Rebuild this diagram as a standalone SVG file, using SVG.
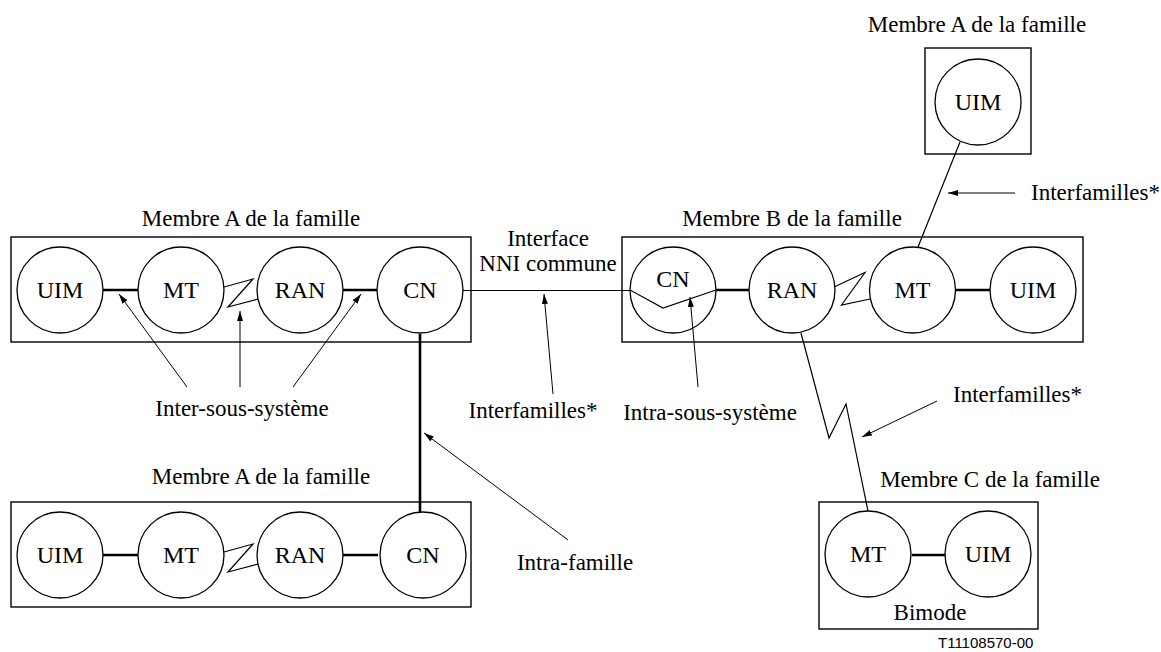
<svg xmlns="http://www.w3.org/2000/svg" width="1161" height="652" viewBox="0 0 1161 652">
<style>
text{font-family:"Liberation Serif","Times New Roman",serif;fill:#000}
.lbl{font-size:23px}
.nt{font-size:24px;text-anchor:middle}
.box{fill:none;stroke:#000;stroke-width:1.4}
.c{fill:#fff;stroke:#000;stroke-width:1.3}
.thin{fill:none;stroke:#000;stroke-width:1.2}
.thick{fill:none;stroke:#000;stroke-width:2.6}
.arr{fill:none;stroke:#000;stroke-width:1;marker-end:url(#ah)}
</style>
<defs>
<marker id="ah" viewBox="0 0 10 6" refX="10" refY="3" markerWidth="10" markerHeight="6" markerUnits="userSpaceOnUse" orient="auto">
<path d="M0,0 L10,3 L0,6 Z" fill="#000"/>
</marker>
</defs>
<rect width="1161" height="652" fill="#fff"/>

<g id="family-A-top-left">
<rect class="box" x="11" y="237" width="460" height="105"/>
<text class="lbl" x="251" y="226" text-anchor="middle">Membre A de la famille</text>
</g>
<g id="family-A-bottom">
<rect class="box" x="11" y="502" width="460" height="105"/>
<text class="lbl" x="261" y="484" text-anchor="middle">Membre A de la famille</text>
</g>
<g id="family-B">
<rect class="box" x="622" y="237" width="461" height="105"/>
<text class="lbl" x="792" y="226" text-anchor="middle">Membre B de la famille</text>
</g>
<g id="family-A-top-right">
<rect class="box" x="925" y="48" width="106" height="106"/>
<text class="lbl" x="977" y="32" text-anchor="middle">Membre A de la famille</text>
</g>
<g id="family-C">
<rect class="box" x="819" y="502" width="219" height="127"/>
<text class="lbl" x="990" y="487" text-anchor="middle">Membre C de la famille</text>
<text class="lbl" x="930" y="620" text-anchor="middle">Bimode</text>
</g>

<g id="connectors">
<line class="thick" x1="103" y1="290" x2="138" y2="290"/>
<polyline class="thin" points="224,287 253,279 228,307 258,299"/>
<line class="thick" x1="343" y1="290" x2="378" y2="290"/>
<line class="thick" x1="103" y1="555" x2="138" y2="555"/>
<polyline class="thin" points="224,552 253,544 228,572 258,564"/>
<line class="thick" x1="343" y1="555" x2="378" y2="555"/>
<line class="thick" x1="420" y1="334" x2="420" y2="512"/>
<polyline class="thin" points="463,290.5 631,290.5 663,308 716,290"/>
<line class="thick" x1="716" y1="290" x2="750" y2="290"/>
<polyline class="thin" points="834,287 865,272.5 841.5,305 870,299"/>
<line class="thick" x1="956" y1="290" x2="990" y2="290"/>
<line class="thin" x1="960" y1="142" x2="918" y2="247"/>
<polyline class="thin" points="801,333 829,438 846,404 868,511"/>
<line class="thick" x1="912" y1="555" x2="945" y2="555"/>
<line class="arr" x1="187" y1="387" x2="119" y2="294"/>
<line class="arr" x1="240" y1="387" x2="240" y2="311"/>
<line class="arr" x1="293" y1="387" x2="361" y2="294"/>
<line class="arr" x1="553" y1="394" x2="544" y2="294"/>
<line class="arr" x1="698" y1="387" x2="690" y2="297"/>
<line class="arr" x1="568" y1="540" x2="424" y2="433"/>
<line class="arr" x1="1015" y1="193" x2="948" y2="193"/>
<line class="arr" x1="937" y1="401" x2="862" y2="437"/>
</g>

<g id="A1-UIM"><circle class="c" cx="60" cy="290" r="43"/><text class="nt" x="60" y="298">UIM</text></g>
<g id="A1-MT"><circle class="c" cx="181" cy="290" r="43"/><text class="nt" x="181" y="298">MT</text></g>
<g id="A1-RAN"><circle class="c" cx="300" cy="290" r="43"/><text class="nt" x="300" y="298">RAN</text></g>
<g id="A1-CN"><circle class="c" cx="420" cy="290" r="43"/><text class="nt" x="420" y="298">CN</text></g>

<g id="A2-UIM"><circle class="c" cx="60" cy="555" r="43"/><text class="nt" x="60" y="563">UIM</text></g>
<g id="A2-MT"><circle class="c" cx="181" cy="555" r="43"/><text class="nt" x="181" y="563">MT</text></g>
<g id="A2-RAN"><circle class="c" cx="300" cy="555" r="43"/><text class="nt" x="300" y="563">RAN</text></g>
<g id="A2-CN"><circle class="c" cx="423" cy="555" r="43"/><text class="nt" x="423" y="563">CN</text></g>

<g id="B-CN"><circle class="c" cx="673" cy="290" r="43" style="fill:none"/><text class="nt" x="673" y="287">CN</text></g>
<g id="B-RAN"><circle class="c" cx="792" cy="290" r="43"/><text class="nt" x="792" y="298">RAN</text></g>
<g id="B-MT"><circle class="c" cx="912.5" cy="290" r="43"/><text class="nt" x="912.5" y="298">MT</text></g>
<g id="B-UIM"><circle class="c" cx="1033" cy="290" r="43"/><text class="nt" x="1033" y="298">UIM</text></g>

<g id="A3-UIM"><circle class="c" cx="978" cy="102" r="43"/><text class="nt" x="978" y="110">UIM</text></g>

<g id="C-MT"><circle class="c" cx="868" cy="554" r="43"/><text class="nt" x="868" y="562">MT</text></g>
<g id="C-UIM"><circle class="c" cx="988" cy="554" r="43"/><text class="nt" x="988" y="562">UIM</text></g>

<g id="labels">
<text class="lbl" x="548" y="246" text-anchor="middle">Interface</text>
<text class="lbl" x="548" y="271" text-anchor="middle">NNI commune</text>
<text class="lbl" x="242" y="416" text-anchor="middle">Inter-sous-système</text>
<text class="lbl" x="533" y="418" text-anchor="middle">Interfamilles*</text>
<text class="lbl" x="710" y="420" text-anchor="middle">Intra-sous-système</text>
<text class="lbl" x="575" y="570" text-anchor="middle">Intra-famille</text>
<text class="lbl" x="1031" y="200">Interfamilles*</text>
<text class="lbl" x="953" y="402">Interfamilles*</text>
<text x="938" y="648" style="font-family:'Liberation Sans',Arial,sans-serif;font-size:15px">T11108570-00</text>
</g>
</svg>
